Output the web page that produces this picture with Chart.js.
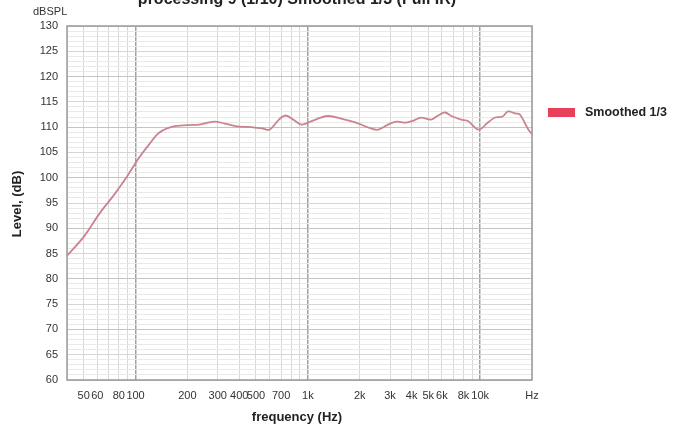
<!DOCTYPE html>
<html>
<head>
<meta charset="utf-8">
<script src="https://cdn.jsdelivr.net/npm/chart.js@4/dist/chart.umd.min.js"></script>
<style>
  html, body { margin: 0; padding: 0; background: #fff; }
  #wrap { position: relative; width: 675px; height: 428px; }
</style>
</head>
<body>
<div id="wrap"><canvas id="fr"></canvas></div>
<script>
// ── Measurement data (Hz / dB SPL) ─────────────
const freqs = [40, 50, 62, 75, 89, 105, 120, 137, 164, 200, 234, 286, 330, 400, 470, 550, 600,
  680, 745, 830, 920, 1050, 1300, 1600, 1900, 2300, 2560, 3000, 3300, 3700, 4100, 4540, 5200,
  5700, 6260, 6800, 7760, 8500, 9800, 11000, 12200, 13500, 14500, 16000, 17000, 19000, 20000];
const levels = [84.6, 88.3, 93.0, 96.6, 100.2, 104.0, 106.6, 108.9, 110.1, 110.4, 110.5, 111.1, 110.7,
  110.1, 110.0, 109.7, 109.5, 111.5, 112.3, 111.4, 110.5, 111.2, 112.2, 111.6, 110.9, 109.8, 109.5,
  110.7, 111.1, 110.9, 111.3, 111.9, 111.5, 112.3, 112.9, 112.2, 111.5, 111.2, 109.5, 110.8, 111.9,
  112.1, 113.1, 112.7, 112.5, 109.6, 108.6];

// ── Axis ticks ────────────────────────────────
const gridFreqs = [40, 50, 60, 70, 80, 90, 100, 200, 300, 400, 500, 600, 700, 800, 900,
  1000, 2000, 3000, 4000, 5000, 6000, 7000, 8000, 9000, 10000, 20000];
const labelFreqs = [50, 60, 80, 100, 200, 300, 400, 500, 700, 1000, 2000, 3000, 4000, 5000, 6000, 8000, 10000, 20000];
const labelTexts = ['50', '60', '80', '100', '200', '300', '400', '500', '700', '1k', '2k', '3k', '4k', '5k', '6k', '8k', '10k', 'Hz'];

const seriesName = 'Smoothed 1/3';
const titleText  = 'processing 9 (1/10) Smoothed 1/3 (Full IR)';

const FONT = '"Liberation Sans", Arial, Helvetica, sans-serif';

// extra text: title, axis titles, unit, legend, frame
const decorPlugin = {
  id: 'decor',
  afterDraw(chart) {
    const { ctx, chartArea: a } = chart;
    ctx.save();
    ctx.strokeStyle = '#9a9a9a';
    ctx.lineWidth = 1.5;
    ctx.strokeRect(a.left, a.top, a.right - a.left, a.bottom - a.top);

    ctx.fillStyle = '#222';
    ctx.textAlign = 'center';
    ctx.textBaseline = 'alphabetic';
    ctx.font = 'bold 16px ' + FONT;
    ctx.fillText(titleText, 297, 4);

    ctx.font = 'bold 13px ' + FONT;
    ctx.textBaseline = 'middle';
    ctx.fillText('frequency (Hz)', 297, 417);

    ctx.save();
    ctx.translate(17, 204);
    ctx.rotate(-Math.PI / 2);
    ctx.fillText('Level, (dB)', 0, 0);
    ctx.restore();

    ctx.font = '11px ' + FONT;
    ctx.fillStyle = '#333';
    ctx.textAlign = 'left';
    ctx.fillText('dBSPL', 33, 12);

    // legend
    ctx.fillStyle = '#e8405a';
    ctx.fillRect(548, 108, 27, 9);
    ctx.fillStyle = '#222';
    ctx.font = 'bold 12.5px ' + FONT;
    ctx.fillText(seriesName, 585, 113);
    ctx.restore();
  }
};

new Chart(document.getElementById('fr'), {
  type: 'line',
  data: {
    datasets: [{
      label: seriesName,
      data: freqs.map((f, i) => ({ x: f, y: levels[i] })),
      borderColor: '#c98490',
      borderWidth: 1.8,
      pointRadius: 0,
      tension: 0.35,
      fill: false
    }]
  },
  options: {
    responsive: true,
    maintainAspectRatio: false,
    animation: false,
    layout: { padding: { left: 0, top: 26, right: 143, bottom: 0 } },
    plugins: { legend: { display: false }, title: { display: false }, tooltip: { enabled: false } },
    scales: {
      x: {
        type: 'logarithmic',
        min: 40, max: 20000,
        afterBuildTicks: s => { s.ticks = gridFreqs.map(v => ({ value: v })); },
        afterFit: s => { s.height = 48; },
        ticks: {
          autoSkip: false, maxRotation: 0, padding: 9,
          color: '#333', font: { family: FONT, size: 11 },
          callback: v => {
            const i = labelFreqs.indexOf(v);
            return i >= 0 ? labelTexts[i] : '';
          }
        },
        grid: {
          drawTicks: false,
          color: c => {
            const v = c.tick && c.tick.value;
            if (v === 100 || v === 1000 || v === 10000) return '#a0a0a0';
            return '#d8d8d8';
          },
          lineWidth: c => {
            const v = c.tick && c.tick.value;
            return (v === 100 || v === 1000 || v === 10000) ? 1.5 : 1;
          }
        },
        border: { display: false }
      },
      y: {
        min: 60, max: 130,
        afterFit: s => { s.width = 67; },
        ticks: {
          stepSize: 1, autoSkip: false, padding: 9,
          color: '#333', font: { family: FONT, size: 11 },
          callback: v => (v % 5 === 0 ? String(v) : '')
        },
        grid: {
          drawTicks: false,
          color: c => {
            const v = c.tick && c.tick.value;
            if (v % 10 === 0) return '#c4c4c4';
            if (v % 5 === 0) return '#d6d6d6';
            return '#e9e9e9';
          }
        },
        border: { display: false }
      }
    }
  },
  plugins: [decorPlugin]
});
</script>
</body>
</html>
